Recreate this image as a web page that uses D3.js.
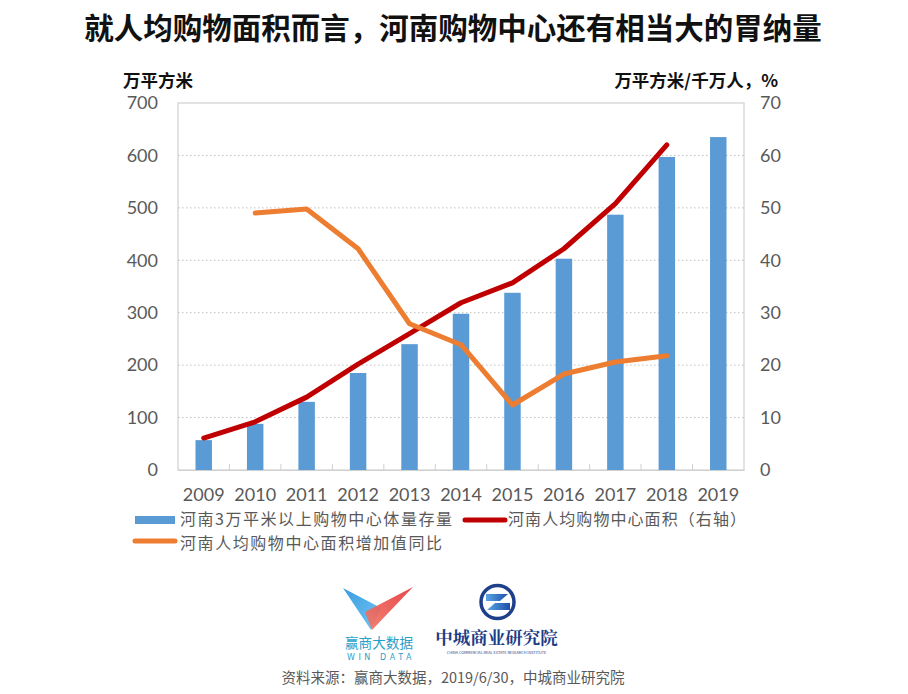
<!DOCTYPE html>
<html><head><meta charset="utf-8">
<script src="https://cdn.jsdelivr.net/npm/d3@7"></script>
<style>
body{margin:0;background:#fff;}
svg{display:block;font-family:"Noto Sans CJK SC","Noto Sans",sans-serif;}
</style></head>
<body><svg id="c" width="908" height="694"></svg>
<script>
const years = ["2009","2010","2011","2012","2013","2014","2015","2016","2017","2018","2019"];
const stock = [57, 88, 130, 185, 240, 298, 338, 403, 487, 597, 635];
const perCapita = [6.1, 9.2, 13.9, 20.2, 26.0, 31.9, 35.7, 42.2, 50.8, 62.0, null];
const growth = [null, 49.0, 49.8, 42.2, 27.9, 23.9, 12.4, 18.3, 20.6, 21.8, null];
const leftTicks = [0,100,200,300,400,500,600,700];
const rightTicks = [0,10,20,30,40,50,60,70];
const seriesNames = ["河南3万平米以上购物中心体量存量","河南人均购物中心面积（右轴）","河南人均购物中心面积增加值同比"];

const svg = d3.select("#c");
const L=178, R=744, T=103, B=470;
const x = d3.scaleBand().domain(years).range([L,R]).paddingInner(0.68).paddingOuter(0.34);
const xb = d3.scaleBand().domain(years).range([L,R]);
const yL = d3.scaleLinear().domain([0,700]).range([B,T]);
const yR = d3.scaleLinear().domain([0,70]).range([B,T]);
const numFont = "Lato,'Open Sans',sans-serif";

// title
svg.append("text").attr("x",453).attr("y",39).attr("text-anchor","middle")
  .attr("font-size",29.5).attr("font-weight","bold").attr("fill","#111")
  .text("就人均购物面积而言，河南购物中心还有相当大的胃纳量");

// frame
svg.append("rect").attr("x",L).attr("y",T).attr("width",R-L).attr("height",B-T)
  .attr("fill","none").attr("stroke","#d0d0d0").attr("stroke-width",1.2);

// grid
svg.append("g").selectAll("line").data(leftTicks.filter(d=>d>0&&d<700)).join("line")
  .attr("x1",L).attr("x2",R).attr("y1",d=>yL(d)).attr("y2",d=>yL(d))
  .attr("stroke","#bfbfbf").attr("stroke-width",1).attr("stroke-dasharray","1.5,2.5");

// left axis
const gl = svg.append("g").attr("transform",`translate(${L},0)`)
  .call(d3.axisLeft(yL).tickValues(leftTicks).tickSize(0).tickPadding(20));
gl.select(".domain").remove();
gl.selectAll("text").attr("font-size",18).attr("fill","#595959").attr("font-family",numFont);

// right axis
const gr = svg.append("g").attr("transform",`translate(${R},0)`)
  .call(d3.axisRight(yR).tickValues(rightTicks).tickSize(0).tickPadding(16));
gr.select(".domain").remove();
gr.selectAll("text").attr("font-size",18).attr("fill","#595959").attr("font-family",numFont);

// bottom axis
const gb = svg.append("g").attr("transform",`translate(0,${B})`)
  .call(d3.axisBottom(x).tickSize(0).tickPadding(18));
gb.select(".domain").attr("stroke","#d0d0d0");
gb.selectAll("text").attr("font-size",18).attr("fill","#595959").attr("font-family",numFont);
svg.append("g").selectAll("line").data(years.slice(1)).join("line")
  .attr("x1",d=>xb(d)).attr("x2",d=>xb(d)).attr("y1",B).attr("y2",B-6)
  .attr("stroke","#d0d0d0");

// axis titles
svg.append("text").attr("x",123).attr("y",87).attr("font-size",17.5).attr("font-weight","bold").attr("fill","#111").text("万平方米");
svg.append("text").attr("x",778).attr("y",87).attr("text-anchor","end").attr("font-size",17.5).attr("font-weight","bold").attr("fill","#111").text("万平方米/千万人，%");

// bars
svg.append("g").selectAll("rect").data(years).join("rect")
  .attr("x",d=>x(d)).attr("width",x.bandwidth())
  .attr("y",(d,i)=>yL(stock[i])).attr("height",(d,i)=>B-yL(stock[i]))
  .attr("fill","#5B9BD5");

// lines
const cx = d=>x(d)+x.bandwidth()/2;
const mk = arr => d3.line().defined((d,i)=>arr[i]!=null).x(d=>cx(d)).y((d,i)=>yR(arr[i]));
svg.append("path").datum(years).attr("d",mk(perCapita)).attr("fill","none")
  .attr("stroke","#C00000").attr("stroke-width",5).attr("stroke-linecap","round").attr("stroke-linejoin","round");
svg.append("path").datum(years).attr("d",mk(growth)).attr("fill","none")
  .attr("stroke","#ED7D31").attr("stroke-width",5).attr("stroke-linecap","round").attr("stroke-linejoin","round");

// legend
const lg = svg.append("g").attr("font-size",16).attr("fill","#595959");
lg.append("rect").attr("x",135).attr("y",516).attr("width",40).attr("height",8).attr("fill","#5B9BD5");
lg.append("text").attr("x",180).attr("y",525).attr("textLength",272).text(seriesNames[0]);
lg.append("line").attr("x1",465).attr("x2",505).attr("y1",520).attr("y2",520).attr("stroke","#C00000").attr("stroke-width",5).attr("stroke-linecap","round");
lg.append("text").attr("x",508).attr("y",525).attr("textLength",238).text(seriesNames[1]);
lg.append("line").attr("x1",135).attr("x2",175).attr("y1",541).attr("y2",541).attr("stroke","#ED7D31").attr("stroke-width",5).attr("stroke-linecap","round");
lg.append("text").attr("x",180).attr("y",548.5).attr("textLength",262).text(seriesNames[2]);

// WIN DATA logo
const defs = svg.append("defs");
const gradB = defs.append("linearGradient").attr("id","gb").attr("x1","0").attr("y1","0").attr("x2","1").attr("y2","1");
gradB.append("stop").attr("offset","0").attr("stop-color","#3a9de0");
gradB.append("stop").attr("offset","1").attr("stop-color","#72c6f2");
const gradR = defs.append("linearGradient").attr("id","gr").attr("x1","1").attr("y1","0").attr("x2","0").attr("y2","1");
gradR.append("stop").attr("offset","0").attr("stop-color","#e5383a");
gradR.append("stop").attr("offset","1").attr("stop-color","#f27c6c");
const gradZ = defs.append("linearGradient").attr("id","gz").attr("x1","0").attr("y1","0").attr("x2","1").attr("y2","0");
gradZ.append("stop").attr("offset","0").attr("stop-color","#5aa6e6");
gradZ.append("stop").attr("offset","1").attr("stop-color","#1e4ea8");
const lw = svg.append("g");
lw.append("path").attr("d","M343,588 L381,608 L371,630 Z").attr("fill","url(#gb)");
lw.append("path").attr("d","M413,587 L365,612 L372,630 Z").attr("fill","url(#gr)").attr("opacity",0.93);
lw.append("text").attr("x",379).attr("y",648).attr("text-anchor","middle").attr("font-size",13.6).attr("fill","#2b9fc9").text("赢商大数据");
lw.append("text").attr("x",381).attr("y",660).attr("text-anchor","middle").attr("font-size",8).attr("letter-spacing",3.6).attr("fill","#2b9fc9").attr("font-family","'DejaVu Sans',sans-serif").text("WIN DATA");

// Zhongcheng logo
const lz = svg.append("g");
lz.append("circle").attr("cx",497.5).attr("cy",602).attr("r",16.5).attr("fill","none").attr("stroke","#1e3f8a").attr("stroke-width",3.5);
lz.append("path").attr("d","M486,594 L508,594 L500,601 L486,601 Z").attr("fill","url(#gz)");
lz.append("path").attr("d","M495,603 L510,603 L510,610 L487,610 Z").attr("fill","url(#gz)");
lz.append("text").attr("x",496.5).attr("y",644).attr("text-anchor","middle").attr("font-size",17.5).attr("font-weight","bold").attr("fill","#1c3c86").attr("font-family","'Noto Serif CJK SC','Noto Sans CJK SC',serif").text("中城商业研究院");
lz.append("text").attr("x",496.5).attr("y",654).attr("text-anchor","middle").attr("font-size",3.8).attr("fill","#1c3c86").text("CHINA COMMERCIAL REAL ESTATE RESEARCH INSTITUTE");

// source
svg.append("text").attr("x",453).attr("y",683).attr("text-anchor","middle").attr("font-size",14.5).attr("fill","#595959").text("资料来源：赢商大数据，2019/6/30，中城商业研究院");
</script></body></html>
